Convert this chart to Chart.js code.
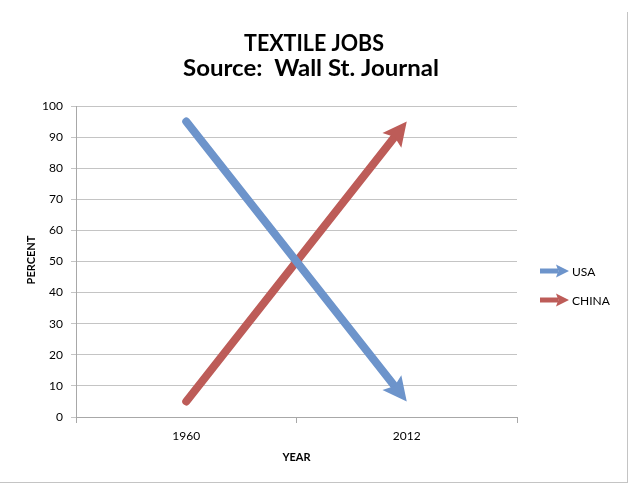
<!DOCTYPE html>
<html>
<head>
<meta charset="utf-8">
<script src="https://cdn.jsdelivr.net/npm/chart.js@4.4.1/dist/chart.umd.min.js"></script>
<style>
  html, body { margin: 0; padding: 0; background: #fff; }
  #wrap { position: relative; width: 640px; height: 495px; }
  #frame { position: absolute; left: 0; top: 12px; width: 627px; height: 470px;
           border-right: 1px solid #c4c4c4; border-bottom: 1px solid #c4c4c4; pointer-events: none; }
  canvas { position: absolute; left: 0; top: 0; }
</style>
</head>
<body>
<div id="wrap">
  <canvas id="chart" width="640" height="495"></canvas>
  <div id="frame"></div>
</div>
<script>
// data
const years = ['1960', '2012'];
const usaShare = [95, 5];
const chinaShare = [5, 95];
const yTicks = [0, 10, 20, 30, 40, 50, 60, 70, 80, 90, 100];

const BLUE = '#6d94cb';
const RED = '#bd5c58';
const FONT = 'Lato, "Open Sans", sans-serif';

// draw an arrow head with its tip at (x, y), pointing along (ux, uy)
function arrowHead(ctx, x, y, ux, uy, len, half, color) {
  const nx = -uy, ny = ux;
  ctx.save();
  ctx.fillStyle = color;
  ctx.beginPath();
  ctx.moveTo(x, y);
  ctx.lineTo(x - ux * len + nx * half, y - uy * len + ny * half);
  ctx.lineTo(x - ux * len * 0.82, y - uy * len * 0.82);
  ctx.lineTo(x - ux * len - nx * half, y - uy * len - ny * half);
  ctx.closePath();
  ctx.fill();
  ctx.restore();
}

function lineDir(meta) {
  const pts = meta.data;
  const a = pts[pts.length - 2], b = pts[pts.length - 1];
  const dx = b.x - a.x, dy = b.y - a.y;
  const d = Math.hypot(dx, dy);
  return { tip: b, ux: dx / d, uy: dy / d };
}

// text squeezed or stretched to a given width
function fitText(ctx, text, cx, y, width) {
  const w = ctx.measureText(text).width;
  ctx.save();
  ctx.translate(cx, y);
  ctx.scale(width / w, 1);
  ctx.fillText(text, 0, 0);
  ctx.restore();
}

// shorten each line so its end hides under the arrow head, then draw the head
const arrowPlugin = {
  id: 'arrows',
  beforeDatasetDraw(chart, args) {
    const { tip, ux, uy } = lineDir(args.meta);
    const cut = 18, far = 2000;
    const nx = -uy, ny = ux;
    const bx = tip.x - ux * cut, by = tip.y - uy * cut;
    const ctx = chart.ctx;
    ctx.save();
    ctx.beginPath();
    ctx.moveTo(bx + nx * far, by + ny * far);
    ctx.lineTo(bx + nx * far - ux * far, by + ny * far - uy * far);
    ctx.lineTo(bx - nx * far - ux * far, by - ny * far - uy * far);
    ctx.lineTo(bx - nx * far, by - ny * far);
    ctx.closePath();
    ctx.clip();
  },
  afterDatasetDraw(chart, args) {
    const ctx = chart.ctx;
    ctx.restore();
    const { tip, ux, uy } = lineDir(args.meta);
    arrowHead(ctx, tip.x, tip.y, ux, uy, 24, 12, args.meta.dataset.options.borderColor);
  }
};

// titles, axis titles and legend
const decorPlugin = {
  id: 'decor',
  afterDraw(chart) {
    const ctx = chart.ctx;
    const area = chart.chartArea;
    ctx.save();
    ctx.fillStyle = '#000';
    ctx.textAlign = 'center';
    ctx.textBaseline = 'alphabetic';
    ctx.font = 'bold 22px ' + FONT;
    fitText(ctx, 'TEXTILE JOBS', 314, 51, 140);
    fitText(ctx, 'Source:  Wall St. Journal', 311, 76, 256);

    ctx.textBaseline = 'middle';
    ctx.font = 'bold 11px ' + FONT;
    ctx.fillText('YEAR', (area.left + area.right) / 2, 457);
    ctx.save();
    ctx.translate(31, 260);
    ctx.rotate(-Math.PI / 2);
    ctx.fillText('PERCENT', 0, 0);
    ctx.restore();

    ctx.textAlign = 'left';
    ctx.font = '12px ' + FONT;
    chart.data.datasets.forEach((ds, i) => {
      const y = 271 + i * 29;
      ctx.strokeStyle = ds.borderColor;
      ctx.lineWidth = 5;
      ctx.beginPath();
      ctx.moveTo(540, y);
      ctx.lineTo(558, y);
      ctx.stroke();
      arrowHead(ctx, 569, y, 1, 0, 13, 6.5, ds.borderColor);
      ctx.fillStyle = '#000';
      ctx.fillText(ds.label, 572, y + 1);
    });
    ctx.restore();
  }
};

new Chart(document.getElementById('chart'), {
  type: 'line',
  data: {
    labels: years,
    datasets: [
      { label: 'USA', data: usaShare, borderColor: BLUE, backgroundColor: BLUE },
      { label: 'CHINA', data: chinaShare, borderColor: RED, backgroundColor: RED }
    ]
  },
  options: {
    responsive: false,
    animation: false,
    devicePixelRatio: 1,
    layout: { padding: { top: 106, right: 123, bottom: 0, left: 0 } },
    elements: {
      line: { borderWidth: 8, borderCapStyle: 'round', tension: 0 },
      point: { radius: 0, hoverRadius: 0 }
    },
    plugins: {
      legend: { display: false },
      title: { display: false },
      tooltip: { enabled: false }
    },
    scales: {
      x: {
        type: 'category',
        offset: true,
        grid: { offset: true, drawOnChartArea: false, tickLength: 6, color: '#a8a8a8' },
        border: { color: '#a8a8a8', width: 1 },
        ticks: { color: '#000', font: { family: FONT, size: 12 }, padding: 6 },
        afterFit(scale) { scale.height = 78; }
      },
      y: {
        min: 0,
        max: 100,
        afterBuildTicks(scale) { scale.ticks = yTicks.map(v => ({ value: v })); },
        grid: { color: '#c4c4c4', tickLength: 5 },
        border: { color: '#a8a8a8', width: 1 },
        ticks: { color: '#000', font: { family: FONT, size: 12 }, padding: 8 },
        afterFit(scale) { scale.width = 76; }
      }
    }
  },
  plugins: [arrowPlugin, decorPlugin]
});
</script>
</body>
</html>
